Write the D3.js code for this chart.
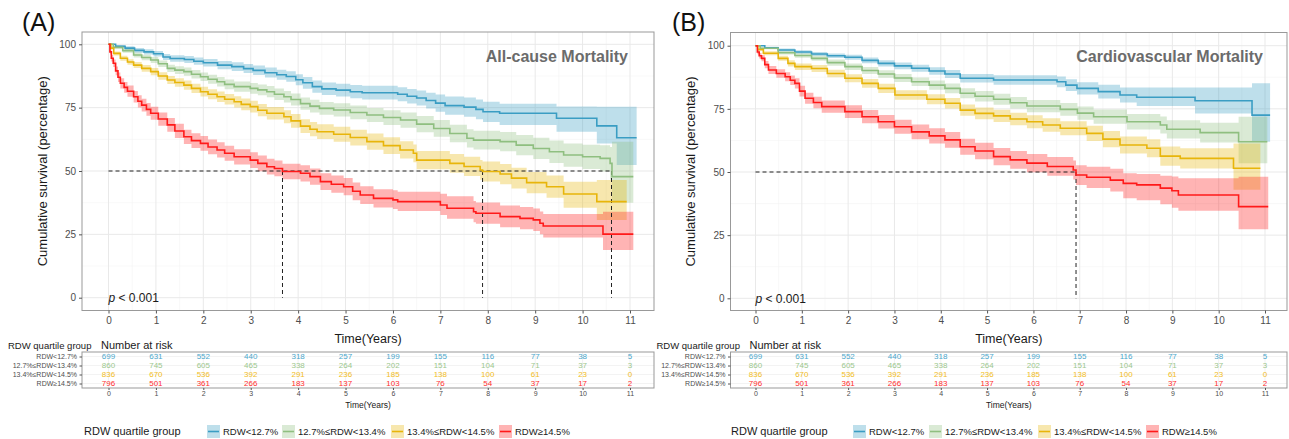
<!DOCTYPE html>
<html><head><meta charset="utf-8">
<script src="https://cdn.jsdelivr.net/npm/d3@7"></script>
<style>
body{margin:0;background:#fff;}
svg{display:block;font-family:"Liberation Sans",Arial,Helvetica,sans-serif;}
</style>
</head><body>
<svg id="chart" width="1289" height="439"></svg>
<script>
// ---------------- DATA ----------------
const years = [0,1,2,3,4,5,6,7,8,9,10,11];
const yTicks = [0,25,50,75,100];
const groupLabels = ["RDW<12.7%","12.7%≤RDW<13.4%","13.4%≤RDW<14.5%","RDW≥14.5%"];
const legendTitle = "RDW quartile group";
const panelTitles = ["All-cause Mortality","Cardiovascular Mortality"];
const panelTags = ["(A)","(B)"];

// Number at risk (same in both panels)
const riskBlue   = [699,631,552,440,318,257,199,155,116,77,38,5];
const riskGreen  = [860,745,605,465,338,264,202,151,104,71,37,3];
const riskYellow = [836,670,536,392,291,236,185,138,100,61,23,0];
const riskRed    = [796,501,361,266,183,137,103,76,54,37,17,2];

// KM estimates: [time, survival %, lower CI, upper CI]
const allBlue = [[0,100,100,100],[0.15,99.2,98.6,99.7],[0.35,98.5,97.7,99.2],[0.55,97.6,96.7,98.5],[0.75,97.0,96.0,98.0],[0.95,96.3,95.2,97.4],[1.15,95.0,93.8,96.2],[1.3,94.4,93.1,95.7],[1.6,94.0,92.6,95.4],[1.8,93.3,91.9,94.8],[2.0,92.7,91.2,94.2],[2.3,91.8,90.2,93.4],[2.6,91.2,89.5,92.9],[2.85,90.4,88.7,92.2],[3.05,89.7,87.9,91.6],[3.3,88.8,86.9,90.8],[3.55,88.0,86.0,90.0],[3.75,87.3,85.2,89.4],[3.95,86.0,83.8,88.2],[4.1,84.8,82.5,87.1],[4.3,83.3,80.9,85.7],[4.5,82.4,80.0,84.9],[4.8,81.9,79.4,84.4],[5.1,81.3,78.7,83.9],[5.35,80.9,78.2,83.6],[6.1,80.3,77.5,83.1],[6.3,79.5,76.6,82.4],[6.5,78.8,75.8,81.8],[6.7,77.8,74.7,80.9],[6.9,76.8,73.4,80.2],[7.1,75.8,72.2,79.4],[7.5,75.2,71.4,79.0],[7.75,74.3,70.4,78.2],[7.9,73.4,69.3,77.3],[8.25,72.8,68.2,76.5],[9.45,70.8,65.5,75.5],[10.3,67.8,60.9,75.4],[10.72,63.1,52.4,75.4],[11.14,63.1,52.4,75.4]];
const allGreen = [[0,100,100,100],[0.1,98.8,98.2,99.4],[0.3,97.5,96.7,98.3],[0.53,95.8,94.8,96.8],[0.7,94.8,93.7,95.9],[0.89,93.8,92.6,95.0],[1.05,92.3,91.0,93.6],[1.24,90.5,89.1,91.9],[1.4,89.8,88.3,91.3],[1.59,89.2,87.6,90.8],[1.75,88.2,86.5,89.9],[1.94,87.2,85.5,88.9],[2.1,86.2,84.4,88.0],[2.29,85.2,83.3,87.1],[2.45,84.2,82.3,86.1],[2.65,83.3,81.3,85.3],[2.99,82.6,80.5,84.7],[3.15,82.0,79.9,84.1],[3.34,81.3,79.1,83.5],[3.5,80.3,78.0,82.6],[3.7,79.3,77.0,81.6],[3.85,78.2,75.8,80.6],[4.05,76.6,74.2,79.0],[4.25,75.6,73.1,78.1],[4.45,74.7,72.2,77.2],[4.75,74.1,71.5,76.7],[5.1,73.1,70.4,75.8],[5.45,72.1,69.3,74.9],[5.8,71.1,68.2,74.0],[6.16,70.1,67.1,73.1],[6.5,68.5,65.3,71.7],[6.86,66.8,63.5,70.1],[7.2,64.8,61.3,68.3],[7.56,62.9,59.3,66.5],[7.7,62.2,58.5,65.9],[8.26,61.6,57.8,65.4],[8.6,60.2,56.2,64.2],[8.96,58.9,54.7,63.1],[9.3,57.6,53.2,62.0],[9.6,56.3,51.7,60.9],[10.0,55.6,50.8,60.4],[10.37,55.0,49.8,60.2],[10.58,53.0,46.5,59.5],[10.62,47.8,37.5,61.5],[11.07,47.8,37.5,61.5]];
const allYellow = [[0,100,100,100],[0.05,98.5,97.9,99.1],[0.11,96.4,95.6,97.2],[0.25,94.5,93.5,95.5],[0.4,93.0,91.9,94.1],[0.53,91.8,90.6,93.0],[0.7,90.5,89.2,91.8],[0.89,89.2,87.8,90.6],[1.05,87.5,86.0,89.0],[1.24,85.9,84.3,87.5],[1.4,84.9,83.2,86.6],[1.59,83.9,82.1,85.7],[1.75,82.6,80.8,84.4],[1.94,81.3,79.4,83.2],[2.1,80.3,78.3,82.3],[2.29,79.3,77.2,81.4],[2.45,78.3,76.2,80.4],[2.65,77.3,75.1,79.5],[2.8,76.3,74.0,78.6],[2.99,75.4,73.1,77.7],[3.15,74.0,71.6,76.4],[3.34,72.8,70.3,75.3],[3.7,71.4,68.8,74.0],[3.85,69.8,67.1,72.5],[4.05,67.7,65.0,70.4],[4.25,66.5,63.7,69.3],[4.4,65.5,62.6,68.4],[4.75,64.5,61.5,67.5],[5.1,63.2,60.1,66.3],[5.45,61.6,58.4,64.8],[5.8,60.0,56.7,63.3],[6.15,58.3,54.9,61.7],[6.43,57.0,53.5,60.5],[6.5,54.3,50.7,57.9],[7.2,53.0,49.3,56.7],[7.5,51.8,48.0,55.6],[7.84,50.4,46.5,54.3],[7.89,49.8,45.9,53.7],[8.26,48.8,44.8,52.8],[8.5,47.2,43.1,51.3],[8.82,45.4,41.2,49.6],[9.24,43.8,39.4,48.2],[9.6,40.9,35.5,45.8],[10.3,37.9,30.7,46.4],[10.93,37.9,30.7,46.4]];
const allRed = [[0,100,100,100],[0.03,97.0,96.0,98.0],[0.06,94.5,93.2,95.8],[0.1,92.5,91.0,94.0],[0.15,89.5,87.8,91.2],[0.2,87.0,85.1,88.9],[0.25,84.6,82.6,86.6],[0.33,83.0,80.9,85.1],[0.4,81.5,79.3,83.7],[0.53,79.3,77.0,81.6],[0.62,77.5,75.1,79.9],[0.7,76.0,73.5,78.5],[0.8,74.3,71.8,76.8],[0.89,72.8,70.2,75.4],[1.05,70.5,67.9,73.1],[1.24,68.2,65.5,70.9],[1.4,65.8,63.0,68.6],[1.59,63.5,60.7,66.3],[1.75,62.0,59.1,64.9],[1.94,60.9,58.0,63.8],[2.1,59.5,56.6,62.4],[2.29,58.3,55.3,61.3],[2.45,57.0,54.0,60.0],[2.65,55.6,52.6,58.6],[2.99,54.3,51.2,57.4],[3.15,53.0,49.9,56.1],[3.34,51.7,48.6,54.8],[3.5,51.0,47.9,54.1],[3.67,49.8,46.7,52.9],[4.05,49.1,45.9,52.3],[4.25,47.8,44.6,51.0],[4.47,45.8,42.5,49.1],[4.7,44.8,41.4,48.2],[4.96,43.8,40.4,47.2],[5.15,42.0,38.5,45.5],[5.31,40.5,37.0,44.0],[5.59,39.2,35.6,42.8],[6.0,38.6,35.0,42.4],[6.1,37.9,34.2,41.8],[7.0,36.6,32.6,41.0],[7.14,35.3,31.2,40.0],[7.7,33.9,29.8,38.2],[7.75,33.3,29.2,37.6],[8.26,32.0,27.8,36.4],[8.68,31.3,27.0,35.8],[8.96,30.7,26.3,35.2],[9.1,29.4,25.0,34.0],[9.17,28.3,23.8,33.0],[10.43,25.1,18.8,33.9],[11.07,25.1,18.8,33.9]];

const cvBlue = [[0,100,100,100],[0.2,99.2,98.8,99.6],[0.49,98.3,97.7,98.9],[0.85,97.5,96.8,98.2],[1.21,96.7,95.9,97.5],[1.55,96.0,95.1,96.9],[1.93,95.4,94.4,96.4],[2.3,94.2,93.1,95.3],[2.65,93.0,91.8,94.2],[3.0,92.0,90.7,93.3],[3.37,91.1,89.7,92.5],[3.75,90.0,88.5,91.5],[4.09,88.8,87.2,90.4],[4.42,87.1,85.4,88.8],[5.14,86.4,84.5,88.3],[6.51,85.7,83.6,87.8],[6.7,84.4,82.1,86.7],[6.94,83.1,80.7,85.5],[7.4,81.8,79.1,84.5],[7.87,80.5,77.5,83.5],[8.23,79.6,76.1,83.5],[9.49,78.2,73.2,83.5],[10.72,72.5,62.0,85.1],[11.11,72.5,62.0,85.1]];
const cvGreen = [[0,100,100,100],[0.1,99.0,98.6,99.4],[0.49,97.2,96.5,97.9],[0.85,96.1,95.2,97.0],[1.21,95.0,94.0,96.0],[1.55,93.3,92.1,94.5],[1.93,91.7,90.4,93.0],[2.3,90.2,88.8,91.6],[2.65,88.8,87.3,90.3],[3.0,87.2,85.6,88.8],[3.37,85.7,84.0,87.4],[3.75,84.4,82.6,86.2],[4.09,83.1,81.2,85.0],[4.42,81.2,79.2,83.2],[4.74,80.0,77.9,82.1],[5.14,78.8,76.6,81.0],[5.5,77.4,75.1,79.7],[5.86,76.1,73.7,78.5],[6.58,74.8,72.3,77.3],[6.95,73.3,70.7,75.9],[7.3,71.9,69.1,74.7],[8.02,69.9,66.8,73.0],[8.74,68.6,65.2,72.0],[8.88,66.9,63.3,70.5],[9.6,65.6,61.7,69.5],[10.43,62.0,53.5,71.9],[11.05,62.0,53.5,71.9]];
const cvYellow = [[0,100,100,100],[0.05,98.5,97.9,99.1],[0.17,97.0,96.2,97.8],[0.49,95.0,94.0,96.0],[0.7,93.0,91.8,94.2],[0.85,91.7,90.4,93.0],[1.21,91.0,89.6,92.4],[1.55,89.0,87.5,90.5],[1.93,87.1,85.5,88.7],[2.3,85.1,83.4,86.8],[2.65,83.1,81.3,84.9],[3.01,80.5,78.6,82.4],[3.7,78.8,76.8,80.8],[4.09,77.2,75.1,79.3],[4.42,74.5,72.3,76.7],[4.74,73.2,70.9,75.5],[5.14,72.2,69.8,74.6],[5.5,71.0,68.5,73.5],[5.86,69.9,67.3,72.5],[6.2,68.6,65.9,71.3],[6.58,67.3,64.5,70.1],[7.15,65.3,62.3,68.3],[7.5,63.0,59.8,66.2],[7.87,60.7,57.3,64.1],[8.45,59.4,55.8,63.0],[8.74,56.3,52.5,60.1],[9.17,55.4,51.4,59.4],[10.32,51.5,43.0,61.3],[10.9,51.5,43.0,61.3]];
const cvRed = [[0,100,100,100],[0.04,97.5,96.6,98.4],[0.08,96.0,94.9,97.1],[0.13,95.0,93.8,96.2],[0.2,92.5,91.1,93.9],[0.28,90.4,88.8,92.0],[0.45,89.0,87.3,90.7],[0.64,87.7,85.9,89.5],[0.75,86.3,84.4,88.2],[0.85,85.1,83.1,87.1],[0.95,82.0,79.9,84.1],[1.07,79.2,77.0,81.4],[1.25,77.5,75.2,79.8],[1.43,75.9,73.5,78.3],[1.93,73.9,71.4,76.4],[2.3,71.9,69.3,74.5],[2.65,69.9,67.2,72.6],[3.0,67.9,65.1,70.7],[3.37,65.9,63.0,68.8],[3.75,64.3,61.3,67.3],[4.09,62.7,59.6,65.8],[4.42,60.0,56.8,63.2],[4.74,58.3,55.0,61.6],[5.14,56.1,52.7,59.5],[5.5,54.8,51.3,58.3],[5.86,53.5,49.9,57.1],[6.3,52.2,48.5,55.9],[6.86,50.8,47.0,54.6],[6.92,48.8,44.9,52.7],[7.15,47.9,43.7,52.1],[7.66,46.8,42.3,51.3],[7.94,45.5,39.6,49.5],[8.23,44.9,38.8,49.2],[8.74,43.6,37.2,48.5],[8.99,42.6,35.8,48.2],[9.13,40.9,34.7,47.5],[10.43,36.3,27.3,48.1],[11.07,36.3,27.3,48.1]];

const allCauseMedians = [3.67, 7.89, 10.61];
const cvMedians = [6.92];

// ---------------- STYLE ----------------
const lineColors = ["#3A9DC3","#8FBF80","#E8B50A","#FF1A1A"];
const textColors = ["#4BA7CC","#9CC78D","#F2BD1C","#FF2E2E"];
const bandOpacity = 0.33;
const svg = d3.select("#chart");
const FONT = '"Liberation Sans",Arial,sans-serif';

function drawPanel(cfg, idx) {
  const x = d3.scaleLinear().domain([0, 11]).range([cfg.x0, cfg.x11]);
  const y = d3.scaleLinear().domain([0, 100]).range([cfg.y0, cfg.y100]);
  const L = cfg.left, R = cfg.right, T = cfg.top, B = cfg.bottom;
  const g = svg.append("g");
  const clipId = "clip" + idx;
  svg.append("defs").append("clipPath").attr("id", clipId)
    .append("rect").attr("x", L).attr("y", T).attr("width", R - L).attr("height", B - T);

  // grid
  const grid = g.append("g");
  const minorX = years.slice(0, 11).map(d => d + 0.5);
  const minorY = [12.5, 37.5, 62.5, 87.5];
  grid.selectAll(".mx").data(minorX).enter().append("line")
    .attr("x1", d => x(d)).attr("x2", d => x(d)).attr("y1", T).attr("y2", B)
    .attr("stroke", "#f3f3f3").attr("stroke-width", 0.6);
  grid.selectAll(".my").data(minorY).enter().append("line")
    .attr("y1", d => y(d)).attr("y2", d => y(d)).attr("x1", L).attr("x2", R)
    .attr("stroke", "#f3f3f3").attr("stroke-width", 0.6);
  grid.selectAll(".gx").data(years).enter().append("line")
    .attr("x1", d => x(d)).attr("x2", d => x(d)).attr("y1", T).attr("y2", B)
    .attr("stroke", "#e9e9e9").attr("stroke-width", 1);
  grid.selectAll(".gy").data(yTicks).enter().append("line")
    .attr("y1", d => y(d)).attr("y2", d => y(d)).attr("x1", L).attr("x2", R)
    .attr("stroke", "#e9e9e9").attr("stroke-width", 1);

  const plot = g.append("g").attr("clip-path", `url(#${clipId})`);
  const area = d3.area().curve(d3.curveStepAfter)
    .x(d => x(d[0])).y0(d => y(d[2])).y1(d => y(d[3]));
  const line = d3.line().curve(d3.curveStepAfter)
    .x(d => x(d[0])).y(d => y(d[1]));
  cfg.curves.forEach((c, i) => {
    plot.append("path").attr("d", area(c)).attr("fill", lineColors[i]).attr("fill-opacity", bandOpacity);
  });
  // median lines
  const maxMed = d3.max(cfg.medians);
  plot.append("line").attr("x1", x(0)).attr("x2", x(maxMed)).attr("y1", y(50)).attr("y2", y(50))
    .attr("stroke", "#222").attr("stroke-width", 1).attr("stroke-dasharray", "4,3");
  plot.selectAll(".med").data(cfg.medians).enter().append("line")
    .attr("x1", d => x(d)).attr("x2", d => x(d)).attr("y1", y(50)).attr("y2", y(0))
    .attr("stroke", "#222").attr("stroke-width", 1).attr("stroke-dasharray", "4,3");
  cfg.curves.forEach((c, i) => {
    plot.append("path").attr("d", line(c)).attr("fill", "none")
      .attr("stroke", lineColors[i]).attr("stroke-width", 1.6);
  });

  // border
  g.append("rect").attr("x", L).attr("y", T).attr("width", R - L).attr("height", B - T)
    .attr("fill", "none").attr("stroke", "#999").attr("stroke-width", 1);

  // axes
  const ya = g.append("g").attr("transform", `translate(${L},0)`)
    .call(d3.axisLeft(y).tickValues(yTicks).tickSize(3).tickPadding(3));
  const xa = g.append("g").attr("transform", `translate(0,${B})`)
    .call(d3.axisBottom(x).tickValues(years).tickSize(3).tickPadding(3));
  [ya, xa].forEach(a => {
    a.select(".domain").remove();
    a.selectAll(".tick line").attr("stroke", "#555");
    a.selectAll(".tick text").attr("fill", "#4d4d4d").style("font-size", "10px").style("font-family", FONT);
  });

  // titles
  g.append("text").attr("transform", `translate(${L - 40},${(T + B) / 2}) rotate(-90)`)
    .attr("text-anchor", "middle").attr("dy", "0.35em").attr("fill", "#1a1a1a")
    .style("font-size", "13px").text("Cumulative survival (percentage)");
  g.append("text").attr("x", (L + R) / 2).attr("y", 343).attr("text-anchor", "middle")
    .attr("fill", "#1a1a1a").style("font-size", "12.5px").text("Time(Years)");
  g.append("text").attr("x", cfg.tagX).attr("y", 31).attr("fill", "#111")
    .style("font-size", "25px").text(panelTags[idx]);
  g.append("text").attr("x", cfg.titleRight).attr("y", 62).attr("text-anchor", "end")
    .attr("fill", "#6b6b6b").style("font-size", "16px").style("font-weight", "bold")
    .text(panelTitles[idx]);
  const pt = g.append("text").attr("x", x(0)).attr("y", y(0) + 4.5).attr("fill", "#1a1a1a")
    .style("font-size", "12px");
  pt.append("tspan").style("font-style", "italic").text("p");
  pt.append("tspan").text(" < 0.001");

  // ---------- risk table ----------
  const tT = 352, tB = 388;
  const rowY = d3.scalePoint().domain(groupLabels).range([356.5, 383.5]);
  const tg = svg.append("g");
  tg.selectAll(".tg").data(years).enter().append("line")
    .attr("x1", d => x(d)).attr("x2", d => x(d)).attr("y1", tT).attr("y2", tB)
    .attr("stroke", "#eeeeee").attr("stroke-width", 0.8);
  tg.selectAll(".tgy").data(groupLabels).enter().append("line")
    .attr("x1", L).attr("x2", R).attr("y1", d => rowY(d)).attr("y2", d => rowY(d))
    .attr("stroke", "#f0f0f0").attr("stroke-width", 0.8);
  tg.append("rect").attr("x", L).attr("y", tT).attr("width", R - L).attr("height", tB - tT)
    .attr("fill", "none").attr("stroke", "#999").attr("stroke-width", 1);
  const risks = [riskBlue, riskGreen, riskYellow, riskRed];
  risks.forEach((arr, gi) => {
    tg.selectAll(".rk" + gi).data(arr).enter().append("text")
      .attr("x", (d, j) => x(years[j])).attr("y", rowY(groupLabels[gi]))
      .attr("dy", "0.36em").attr("text-anchor", "middle")
      .attr("fill", textColors[gi]).style("font-size", "8px").text(d => d);
  });
  const ra = tg.append("g").attr("transform", `translate(${L},0)`)
    .call(d3.axisLeft(rowY).tickSize(2.5).tickPadding(2.5));
  ra.select(".domain").remove();
  ra.selectAll(".tick line").attr("stroke", "#555");
  ra.selectAll(".tick text").attr("fill", "#4d4d4d").style("font-size", "7px").style("font-family", FONT);
  const rx = tg.append("g").attr("transform", `translate(0,${tB})`)
    .call(d3.axisBottom(x).tickValues(years).tickSize(2).tickPadding(1));
  rx.select(".domain").remove();
  rx.selectAll(".tick line").attr("stroke", "#555");
  rx.selectAll(".tick text").attr("fill", "#4d4d4d").style("font-size", "7px").style("font-family", FONT);
  tg.append("text").attr("x", (L + R) / 2).attr("y", 407.5).attr("text-anchor", "middle")
    .attr("fill", "#1a1a1a").style("font-size", "8.5px").text("Time(Years)");
  tg.append("text").attr("x", L - 74).attr("y", 348.5).attr("fill", "#1a1a1a")
    .style("font-size", "9.5px").text(legendTitle);
  tg.append("text").attr("x", L + 19).attr("y", 349).attr("fill", "#1a1a1a")
    .style("font-size", "11px").text("Number at risk");

  // ---------- legend ----------
  const lg = svg.append("g");
  lg.append("text").attr("x", cfg.legendX).attr("y", 431.5).attr("dy", "0.35em")
    .attr("fill", "#1a1a1a").style("font-size", "11px").text(legendTitle);
  const keyX = cfg.legendKeys;
  groupLabels.forEach((lab, i) => {
    lg.append("rect").attr("x", keyX[i]).attr("y", 425).attr("width", 13).attr("height", 13)
      .attr("fill", lineColors[i]).attr("fill-opacity", bandOpacity);
    lg.append("line").attr("x1", keyX[i] + 1).attr("x2", keyX[i] + 12).attr("y1", 431.5).attr("y2", 431.5)
      .attr("stroke", lineColors[i]).attr("stroke-width", 1.6);
    lg.append("text").attr("x", keyX[i] + 16).attr("y", 431.5).attr("dy", "0.35em")
      .attr("fill", "#1a1a1a").style("font-size", "9.5px").text(lab);
  });
}

drawPanel({
  left: 82, right: 654, top: 32, bottom: 310.5,
  x0: 108.5, x11: 630, y0: 297.7, y100: 44.3,
  curves: [allBlue, allGreen, allYellow, allRed], medians: allCauseMedians,
  tagX: 22, titleRight: 628, legendX: 84, legendKeys: [207, 282, 391, 499]
}, 0);
drawPanel({
  left: 730.5, right: 1287, top: 32.5, bottom: 310.5,
  x0: 755.5, x11: 1265, y0: 298.3, y100: 45.7,
  curves: [cvBlue, cvGreen, cvYellow, cvRed], medians: cvMedians,
  tagX: 672, titleRight: 1263, legendX: 731, legendKeys: [853, 929, 1038, 1146]
}, 1);
</script>
</body></html>
